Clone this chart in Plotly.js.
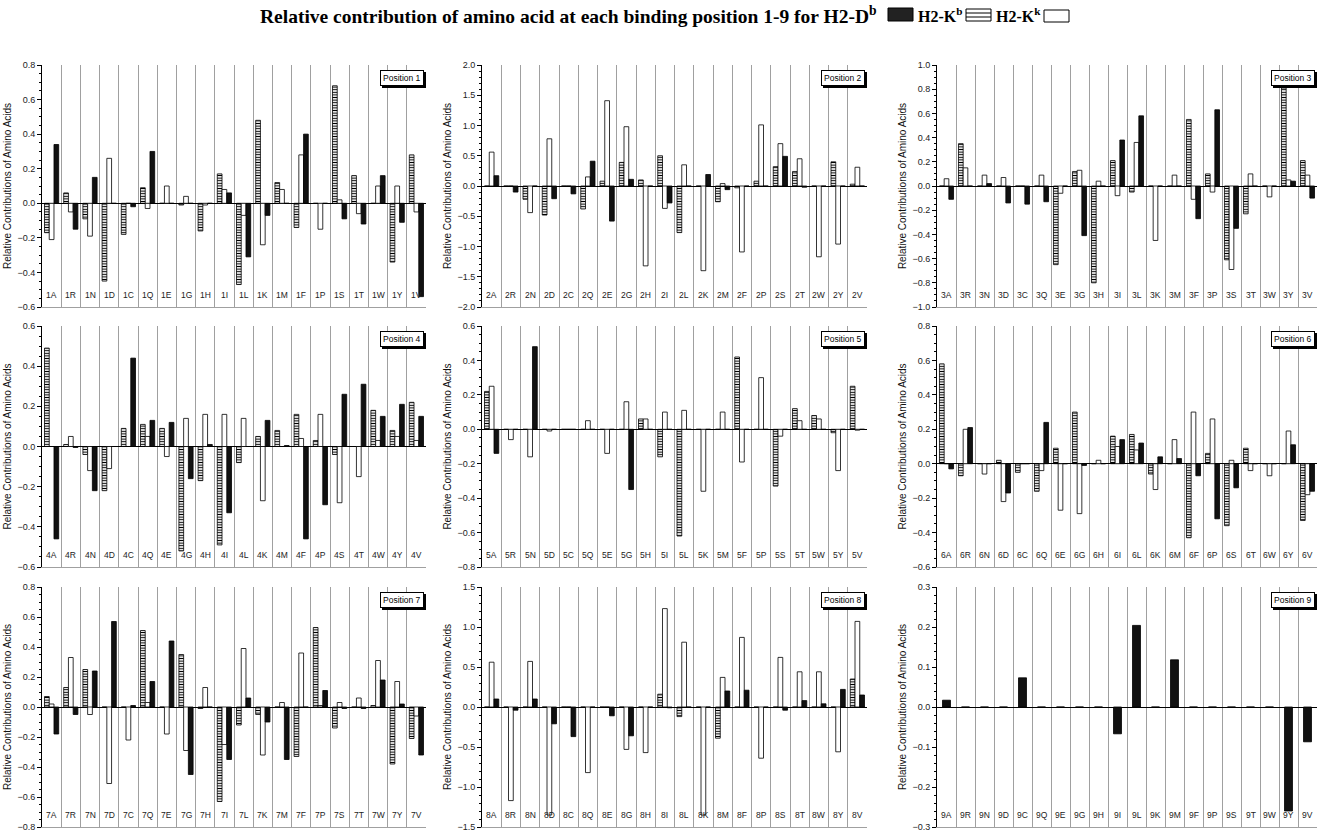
<!DOCTYPE html>
<html><head><meta charset="utf-8">
<script src="https://cdn.plot.ly/plotly-3.0.1.min.js"></script>
<style>html,body{margin:0;padding:0;background:#fff}#chart{width:1319px;height:834px}</style>
</head><body><div id="chart"></div>
<script>
// ---------------- DATA ----------------
const aminoAcids = ['A','R','N','D','C','Q','E','G','H','I','L','K','M','F','P','S','T','W','Y','V'];
const seriesNames = ['H2-K<sup>b</sup>','H2-K<sup>k</sup>','H2-D<sup>b</sup>'];

const kb1 = [-0.17, 0.06, -0.09, -0.45, -0.18, 0.09, 0, -0.01, -0.16, 0.17, -0.47, 0.48, 0.12, -0.14, 0, 0.68, 0.16, 0, -0.34, 0.28];
const kk1 = [-0.21, -0.05, -0.19, 0.26, 0, -0.03, 0.10, 0.04, -0.01, 0.08, -0.07, -0.24, 0.08, 0.28, -0.15, 0.02, -0.06, 0.10, 0.10, -0.05];
const db1 = [0.34, -0.15, 0.15, 0, -0.02, 0.30, 0, 0, 0, 0.06, -0.31, -0.07, 0, 0.40, 0, -0.09, -0.12, 0.16, -0.11, -0.54];

const kb2 = [0, 0, -0.22, -0.48, 0, -0.38, 0.08, 0.39, 0.10, 0.50, -0.77, 0, -0.26, -0.03, 0.08, 0.32, 0.24, 0, 0.40, 0.03];
const kk2 = [0.56, 0, -0.44, 0.78, 0, 0.15, 1.41, 0.98, -1.32, -0.37, 0.35, -1.40, 0.04, -1.09, 1.01, 0.70, 0.45, -1.17, -0.96, 0.31];
const db2 = [0.17, -0.10, 0, -0.21, -0.13, 0.41, -0.58, 0.11, 0, -0.28, 0, 0.19, -0.06, 0, 0, 0.49, -0.02, 0, 0, 0];

const kb3 = [0, 0.35, 0, 0, 0, 0, -0.65, 0.12, -0.80, 0.21, -0.05, 0, 0, 0.55, 0.10, -0.61, -0.23, 0, 0.81, 0.21];
const kk3 = [0.06, 0.15, 0.09, 0.07, 0, 0.09, -0.06, 0.13, 0.04, -0.08, 0.36, -0.45, 0.09, -0.11, -0.05, -0.69, 0.10, -0.09, 0.05, 0.09];
const db3 = [-0.11, 0, 0.02, -0.14, -0.15, -0.13, 0, -0.41, 0, 0.38, 0.58, 0, 0, -0.27, 0.63, -0.35, 0, 0, 0.04, -0.10];

const kb4 = [0.49, 0.01, -0.04, -0.22, 0.09, 0.11, 0.09, -0.52, -0.17, -0.49, -0.08, 0.05, 0.08, 0.16, 0.03, -0.04, 0, 0.18, 0.08, 0.22];
const kk4 = [0, 0.05, -0.12, -0.11, 0, 0.05, -0.05, 0.14, 0.16, 0.16, 0.14, -0.27, 0, 0.04, 0.16, -0.28, -0.15, 0.03, 0.05, 0.03];
const db4 = [-0.46, -0.005, -0.22, 0, 0.44, 0.13, 0.12, -0.16, 0.01, -0.33, 0, 0.13, 0.005, -0.46, -0.29, 0.26, 0.31, 0.15, 0.21, 0.15];

const kb5 = [0.22, 0, 0, 0, 0, 0, 0, 0, 0.06, -0.16, -0.62, 0, 0, 0.42, 0, -0.33, 0.12, 0.08, -0.02, 0.25];
const kk5 = [0.25, -0.06, -0.16, -0.01, 0, 0.05, -0.14, 0.16, 0.06, 0.10, 0.11, -0.36, 0.10, -0.19, 0.30, -0.04, 0.05, 0.06, -0.24, -0.005];
const db5 = [-0.14, 0, 0.48, 0, 0, 0, 0, -0.35, 0, 0, 0, 0, 0, 0, 0, 0, 0, 0, 0, 0];

const kb6 = [0.58, -0.07, 0, 0.02, -0.05, -0.16, 0.09, 0.30, 0, 0.16, 0.17, -0.06, 0, -0.43, 0.06, -0.36, 0.09, 0, 0, -0.33];
const kk6 = [0, 0.20, -0.06, -0.22, 0, -0.04, -0.27, -0.29, 0.02, 0.10, 0.08, -0.15, 0.14, 0.30, 0.26, 0.02, -0.04, -0.07, 0.19, -0.18];
const db6 = [-0.03, 0.21, 0, -0.17, 0, 0.24, 0, -0.01, 0, 0.14, 0.12, 0.04, 0.03, -0.07, -0.32, -0.14, 0, 0, 0.11, -0.16];

const kb7 = [0.07, 0.13, 0.25, 0, 0, 0.51, 0, 0.35, -0.01, -0.63, -0.12, -0.05, 0, -0.33, 0.53, -0.14, 0, 0.01, -0.38, -0.21];
const kk7 = [0.02, 0.33, -0.05, -0.51, -0.22, 0.03, -0.18, -0.29, 0.13, -0.25, 0.39, -0.32, 0.03, 0.36, 0.01, 0.03, 0.06, 0.31, 0.17, -0.06];
const db7 = [-0.18, -0.05, 0.24, 0.57, 0.01, 0.17, 0.44, -0.45, 0, -0.35, 0.06, -0.10, -0.35, 0, 0.11, -0.01, -0.01, 0.18, 0.02, -0.32];

const kb8 = [0, 0, 0, 0, 0, 0, 0, 0, 0, 0.16, -0.12, 0, -0.39, 0, 0, 0, 0, 0, 0, 0.35];
const kk8 = [0.56, -1.17, 0.57, -1.35, 0, -0.82, 0, -0.53, -0.57, 1.23, 0.81, -1.35, 0.37, 0.87, -0.64, 0.62, 0.44, 0.44, -0.56, 1.07];
const db8 = [0.10, -0.04, 0.10, -0.21, -0.37, 0, -0.11, -0.36, 0, -0.01, 0, 0, 0.20, 0.21, 0, -0.04, 0.08, 0.04, 0.22, 0.15];

const db9 = [0.017, 0, 0, 0, 0.073, 0, 0, 0, 0, -0.067, 0.204, 0, 0.118, 0, 0, 0, 0, 0, -0.26, -0.087];

const yTitle = 'Relative Contributions of Amino Acids';
const mainTitle = '<b>Relative contribution of amino acid at each binding position 1-9 for H2-D<sup>b</sup></b>';

// ---------------- LAYOUT HELPERS ----------------
const W = 1319, H = 834;
const colsPx = [[42,426],[482,867],[937,1317]];
const rowsPx = [[65,307],[326,567],[587,827]];
const yRanges = [[-0.6,0.8],[-2,2],[-1,1],[-0.6,0.6],[-0.8,0.6],[-0.6,0.8],[-0.8,0.8],[-1.5,1.5],[-0.3,0.3]];
const yDticks = [0.2,0.5,0.2,0.2,0.2,0.2,0.2,0.5,0.1];
const panelData = [
  [kb1,kk1,db1],[kb2,kk2,db2],[kb3,kk3,db3],
  [kb4,kk4,db4],[kb5,kk5,db5],[kb6,kk6,db6],
  [kb7,kk7,db7],[kb8,kk8,db8],[null,null,db9]
];
const px = v => v / W;
const py = v => 1 - v / H;

const lineStyle = {color:'#000', width:0.8};
const styles = [
  {color:'#fff', line:lineStyle, pattern:{shape:'-', size:2.6, solidity:0.4, fgcolor:'#000', fgopacity:1}},
  {color:'#fff', line:lineStyle},
  {color:'#111', line:lineStyle}
];

const traces = [];
const layout = {
  width: W, height: H,
  margin: {l:0, r:0, t:0, b:0},
  paper_bgcolor:'#fff', plot_bgcolor:'#fff',
  font: {family:'Liberation Sans, Arial, sans-serif', size:8, color:'#222'},
  barmode: 'group', bargap: 0.26, bargroupgap: 0,
  showlegend: false,
  annotations: [], shapes: []
};

for (let p = 0; p < 9; p++) {
  const n = p + 1;
  const sfx = n === 1 ? '' : String(n);
  const cats = aminoAcids.map(a => n + a);
  const r = Math.floor(p / 3), c = p % 3;
  panelData[p].forEach((vals, s) => {
    if (!vals) return;
    const t = {
      type:'bar', x: cats, y: vals, name: seriesNames[s],
      xaxis:'x'+sfx, yaxis:'y'+sfx,
      marker: styles[s], hoverinfo:'x+y+name'
    };
    if (p === 8) t.width = 0.42;
    traces.push(t);
  });
  layout['xaxis'+sfx] = {
    domain:[px(colsPx[c][0]), px(colsPx[c][1])],
    anchor:'y'+sfx, type:'category',
    categoryorder:'array', categoryarray: cats,
    range:[-0.5, 19.5],
    tickson:'boundaries', showgrid:true, gridcolor:'#a0a0a0', gridwidth:1,
    showticklabels:false, ticks:'', showline:true, linecolor:'#a0a0a0', linewidth:1,
    zeroline:false, fixedrange:true
  };
  layout['yaxis'+sfx] = {
    domain:[py(rowsPx[r][1]), py(rowsPx[r][0])],
    anchor:'x'+sfx, range: yRanges[p], dtick: yDticks[p], tick0:0,
    tickformat:'.1f', ticks:'outside', ticklen:4, tickcolor:'#000', tickwidth:1,
    showline:true, linecolor:'#000', linewidth:1,
    showgrid:false, zeroline:true, zerolinecolor:'#000', zerolinewidth:1,
    tickfont:{size:9, color:'#222'},
    minor:{ticks:'outside', ticklen:2, tickcolor:'#000', nticks:5, showgrid:false},
    title:{text:yTitle, font:{size:10, color:'#111'}, standoff:3},
    automargin:false, fixedrange:true
  };
  // category labels inside the plot near the bottom
  cats.forEach(cat => {
    layout.annotations.push({
      xref:'x'+sfx, yref:'y'+sfx+' domain', x: cat, y: 0.05,
      text: cat, showarrow:false, font:{size:8.5, color:'#222'},
      xanchor:'center', yanchor:'middle'
    });
  });
  // "Position n" box with shadow
  const posBox = {
    xref:'x'+sfx+' domain', yref:'y'+sfx+' domain', x:0.996, y:0.979,
    xanchor:'right', yanchor:'top', showarrow:false,
    text:'Position ' + n, font:{size:8.5, color:'#000'},
    bgcolor:'#fff', bordercolor:'#000', borderwidth:1, borderpad:2
  };
  layout.annotations.push(Object.assign({}, posBox, {bgcolor:'#000', xshift:1.5, yshift:-1.5}));
  layout.annotations.push(posBox);
}

// Title and legend
const serif = {family:'Liberation Serif, Times New Roman, serif', size:19.5, color:'#000'};
const serifSmall = {family:'Liberation Serif, Times New Roman, serif', size:16, color:'#000'};
layout.annotations.push({xref:'paper', yref:'paper', x:px(879), y:py(15), xanchor:'right', yanchor:'middle',
  text: mainTitle, showarrow:false, font: serif});
layout.annotations.push({xref:'paper', yref:'paper', x:px(916), y:py(15.5), xanchor:'left', yanchor:'middle',
  text:'<b>H2-K<sup>b</sup></b>', showarrow:false, font: serifSmall});
layout.annotations.push({xref:'paper', yref:'paper', x:px(994), y:py(15.5), xanchor:'left', yanchor:'middle',
  text:'<b>H2-K<sup>k</sup></b>', showarrow:false, font: serifSmall});
const rect = (x0,y0,x1,y1,fill) => ({type:'rect', xref:'paper', yref:'paper', x0:px(x0), x1:px(x1), y0:py(y1), y1:py(y0),
  line:{color:'#000', width:1}, fillcolor:fill});
const hline = (x0,x1,y) => ({type:'line', xref:'paper', yref:'paper', x0:px(x0), x1:px(x1), y0:py(y), y1:py(y), line:{color:'#000', width:1}});
layout.shapes.push(rect(888,8,913,21,'#222'));
layout.shapes.push(rect(966,9,991,21,'#fff'));
layout.shapes.push(hline(966,991,13));
layout.shapes.push(hline(966,991,17));
layout.shapes.push(rect(1044,10,1069,22,'#fff'));

Plotly.newPlot('chart', traces, layout, {staticPlot:true, displayModeBar:false});
</script>
</body></html>
